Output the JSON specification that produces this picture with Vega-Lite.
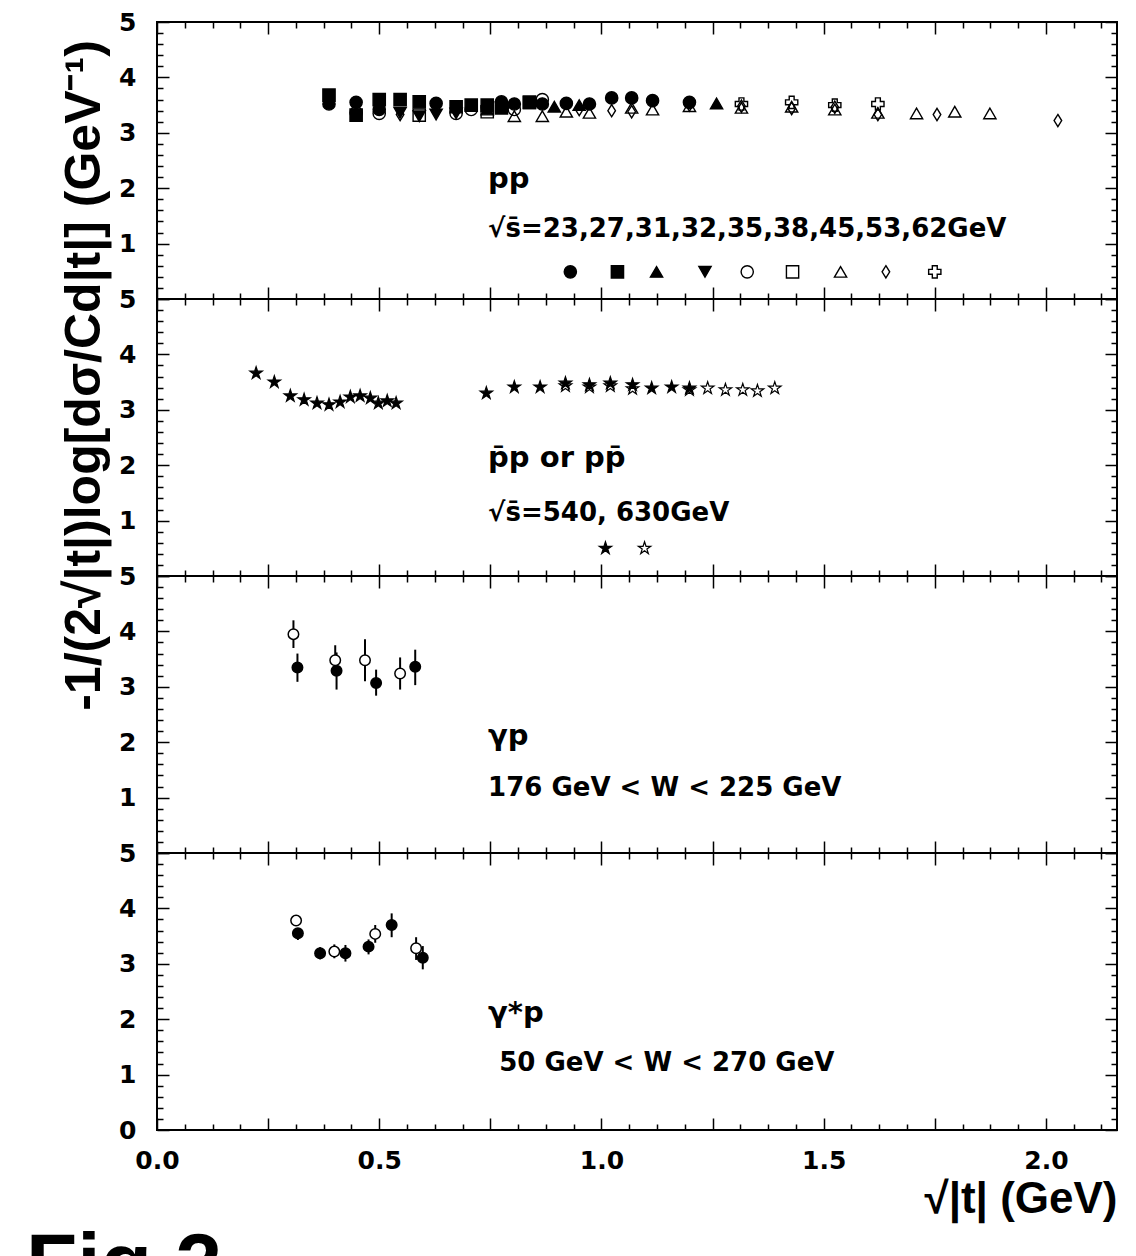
{
  "$schema": "https://vega.github.io/schema/vega-lite/v6.json",
  "padding": {"left": 25, "top": 9, "right": 5, "bottom": 0},
  "background": "white",
  "title": {"text": "Fig.2", "orient": "bottom", "anchor": "start", "fontSize": 84, "font": "Liberation Sans", "fontWeight": "bold", "color": "black", "dx": -32, "offset": 4, "baseline": "top"},
  "datasets": {
    "pp": [
      {"kind": "pt", "s": "23", "x": 0.387, "y": 3.52}, {"kind": "pt", "s": "23", "x": 0.448, "y": 3.55}, {"kind": "pt", "s": "23", "x": 0.5, "y": 3.42}, {"kind": "pt", "s": "23", "x": 0.628, "y": 3.53}, {"kind": "pt", "s": "23", "x": 0.775, "y": 3.56}, {"kind": "pt", "s": "23", "x": 0.804, "y": 3.52}, {"kind": "pt", "s": "23", "x": 0.867, "y": 3.52}, {"kind": "pt", "s": "23", "x": 0.921, "y": 3.53}, {"kind": "pt", "s": "23", "x": 0.973, "y": 3.52}, {"kind": "pt", "s": "23", "x": 1.023, "y": 3.63}, {"kind": "pt", "s": "23", "x": 1.068, "y": 3.63}, {"kind": "pt", "s": "23", "x": 1.115, "y": 3.58}, {"kind": "pt", "s": "23", "x": 1.198, "y": 3.55},
      {"kind": "pt", "s": "27", "x": 0.387, "y": 3.68}, {"kind": "pt", "s": "27", "x": 0.448, "y": 3.32}, {"kind": "pt", "s": "27", "x": 0.5, "y": 3.6}, {"kind": "pt", "s": "27", "x": 0.547, "y": 3.6}, {"kind": "pt", "s": "27", "x": 0.59, "y": 3.56}, {"kind": "pt", "s": "27", "x": 0.673, "y": 3.47}, {"kind": "pt", "s": "27", "x": 0.707, "y": 3.5}, {"kind": "pt", "s": "27", "x": 0.743, "y": 3.5}, {"kind": "pt", "s": "27", "x": 0.775, "y": 3.45}, {"kind": "pt", "s": "27", "x": 0.838, "y": 3.55},
      {"kind": "pt", "s": "31", "x": 0.743, "y": 3.42}, {"kind": "pt", "s": "31", "x": 0.894, "y": 3.47}, {"kind": "pt", "s": "31", "x": 0.95, "y": 3.5}, {"kind": "pt", "s": "31", "x": 1.259, "y": 3.53},
      {"kind": "pt", "s": "32", "x": 0.547, "y": 3.36}, {"kind": "pt", "s": "32", "x": 0.59, "y": 3.3}, {"kind": "pt", "s": "32", "x": 0.628, "y": 3.33}, {"kind": "pt", "s": "32", "x": 0.673, "y": 3.35},
      {"kind": "pt", "s": "35", "x": 0.448, "y": 3.36}, {"kind": "pt", "s": "35", "x": 0.5, "y": 3.35}, {"kind": "pt", "s": "35", "x": 0.673, "y": 3.35}, {"kind": "pt", "s": "35", "x": 0.707, "y": 3.42}, {"kind": "pt", "s": "35", "x": 0.743, "y": 3.46}, {"kind": "pt", "s": "35", "x": 0.804, "y": 3.42}, {"kind": "pt", "s": "35", "x": 0.867, "y": 3.6},
      {"kind": "pt", "s": "38", "x": 0.59, "y": 3.32}, {"kind": "pt", "s": "38", "x": 0.743, "y": 3.38}, {"kind": "pt", "s": "38", "x": 0.838, "y": 3.55},
      {"kind": "pt", "s": "45", "x": 0.804, "y": 3.3}, {"kind": "pt", "s": "45", "x": 0.867, "y": 3.3}, {"kind": "pt", "s": "45", "x": 0.921, "y": 3.38}, {"kind": "pt", "s": "45", "x": 0.973, "y": 3.36}, {"kind": "pt", "s": "45", "x": 1.068, "y": 3.45}, {"kind": "pt", "s": "45", "x": 1.115, "y": 3.42}, {"kind": "pt", "s": "45", "x": 1.198, "y": 3.48}, {"kind": "pt", "s": "45", "x": 1.315, "y": 3.45}, {"kind": "pt", "s": "45", "x": 1.428, "y": 3.47}, {"kind": "pt", "s": "45", "x": 1.525, "y": 3.42}, {"kind": "pt", "s": "45", "x": 1.622, "y": 3.36}, {"kind": "pt", "s": "45", "x": 1.709, "y": 3.35}, {"kind": "pt", "s": "45", "x": 1.795, "y": 3.38}, {"kind": "pt", "s": "45", "x": 1.874, "y": 3.35},
      {"kind": "pt", "s": "53", "x": 0.547, "y": 3.33}, {"kind": "pt", "s": "53", "x": 0.95, "y": 3.42}, {"kind": "pt", "s": "53", "x": 1.023, "y": 3.4}, {"kind": "pt", "s": "53", "x": 1.068, "y": 3.38}, {"kind": "pt", "s": "53", "x": 1.198, "y": 3.5}, {"kind": "pt", "s": "53", "x": 1.315, "y": 3.48}, {"kind": "pt", "s": "53", "x": 1.428, "y": 3.44}, {"kind": "pt", "s": "53", "x": 1.525, "y": 3.46}, {"kind": "pt", "s": "53", "x": 1.622, "y": 3.33}, {"kind": "pt", "s": "53", "x": 1.755, "y": 3.33}, {"kind": "pt", "s": "53", "x": 2.027, "y": 3.22},
      {"kind": "pt", "s": "62", "x": 1.315, "y": 3.52}, {"kind": "pt", "s": "62", "x": 1.428, "y": 3.55}, {"kind": "pt", "s": "62", "x": 1.525, "y": 3.5}, {"kind": "pt", "s": "62", "x": 1.622, "y": 3.52},
      {"kind": "pt", "s": "23", "x": 0.93, "y": 0.49}, {"kind": "pt", "s": "27", "x": 1.036, "y": 0.49}, {"kind": "pt", "s": "31", "x": 1.124, "y": 0.49}, {"kind": "pt", "s": "32", "x": 1.233, "y": 0.49}, {"kind": "pt", "s": "35", "x": 1.328, "y": 0.49}, {"kind": "pt", "s": "38", "x": 1.43, "y": 0.49}, {"kind": "pt", "s": "45", "x": 1.538, "y": 0.49}, {"kind": "pt", "s": "53", "x": 1.64, "y": 0.49}, {"kind": "pt", "s": "62", "x": 1.75, "y": 0.49},
      {"kind": "t1", "x": 0.745, "y": 2.0, "label": "pp"},
      {"kind": "t2", "x": 0.745, "y": 1.12, "label": "√s̄=23,27,31,32,35,38,45,53,62GeV"}
    ],
    "ppbar": [
      {"kind": "pt", "s": "540", "x": 0.223, "y": 3.66}, {"kind": "pt", "s": "540", "x": 0.264, "y": 3.5}, {"kind": "pt", "s": "540", "x": 0.3, "y": 3.25}, {"kind": "pt", "s": "540", "x": 0.331, "y": 3.18}, {"kind": "pt", "s": "540", "x": 0.36, "y": 3.12}, {"kind": "pt", "s": "540", "x": 0.387, "y": 3.09}, {"kind": "pt", "s": "540", "x": 0.412, "y": 3.14}, {"kind": "pt", "s": "540", "x": 0.435, "y": 3.23}, {"kind": "pt", "s": "540", "x": 0.457, "y": 3.25}, {"kind": "pt", "s": "540", "x": 0.48, "y": 3.21}, {"kind": "pt", "s": "540", "x": 0.498, "y": 3.12}, {"kind": "pt", "s": "540", "x": 0.518, "y": 3.16}, {"kind": "pt", "s": "540", "x": 0.538, "y": 3.12},
      {"kind": "pt", "s": "540", "x": 0.741, "y": 3.3}, {"kind": "pt", "s": "540", "x": 0.804, "y": 3.41}, {"kind": "pt", "s": "540", "x": 0.862, "y": 3.41}, {"kind": "pt", "s": "540", "x": 0.919, "y": 3.48}, {"kind": "pt", "s": "540", "x": 0.973, "y": 3.45}, {"kind": "pt", "s": "540", "x": 1.02, "y": 3.48}, {"kind": "pt", "s": "540", "x": 1.07, "y": 3.45}, {"kind": "pt", "s": "540", "x": 1.113, "y": 3.39}, {"kind": "pt", "s": "540", "x": 1.158, "y": 3.41}, {"kind": "pt", "s": "540", "x": 1.198, "y": 3.39},
      {"kind": "pt", "s": "630", "x": 0.919, "y": 3.43}, {"kind": "pt", "s": "630", "x": 0.973, "y": 3.41}, {"kind": "pt", "s": "630", "x": 1.02, "y": 3.43}, {"kind": "pt", "s": "630", "x": 1.07, "y": 3.38}, {"kind": "pt", "s": "630", "x": 1.198, "y": 3.36}, {"kind": "pt", "s": "630", "x": 1.239, "y": 3.39}, {"kind": "pt", "s": "630", "x": 1.279, "y": 3.36}, {"kind": "pt", "s": "630", "x": 1.318, "y": 3.36}, {"kind": "pt", "s": "630", "x": 1.351, "y": 3.34}, {"kind": "pt", "s": "630", "x": 1.39, "y": 3.39},
      {"kind": "pt", "s": "540", "x": 1.009, "y": 0.5}, {"kind": "pt", "s": "630", "x": 1.097, "y": 0.5},
      {"kind": "t1", "x": 0.745, "y": 1.97, "label": "p̄p or pp̄"},
      {"kind": "t2", "x": 0.745, "y": 0.99, "label": "√s̄=540, 630GeV"}
    ],
    "gp": [
      {"kind": "pt", "s": "a", "x": 0.316, "y": 3.35, "lo": 3.09, "hi": 3.6}, {"kind": "pt", "s": "a", "x": 0.404, "y": 3.29, "lo": 2.95, "hi": 3.62}, {"kind": "pt", "s": "a", "x": 0.493, "y": 3.07, "lo": 2.84, "hi": 3.31}, {"kind": "pt", "s": "a", "x": 0.581, "y": 3.36, "lo": 3.03, "hi": 3.67},
      {"kind": "pt", "s": "b", "x": 0.307, "y": 3.95, "lo": 3.7, "hi": 4.2}, {"kind": "pt", "s": "b", "x": 0.401, "y": 3.48, "lo": 3.2, "hi": 3.75}, {"kind": "pt", "s": "b", "x": 0.468, "y": 3.48, "lo": 3.1, "hi": 3.86}, {"kind": "pt", "s": "b", "x": 0.547, "y": 3.24, "lo": 2.95, "hi": 3.53},
      {"kind": "t1", "x": 0.745, "y": 1.95, "label": "γp"},
      {"kind": "t2", "x": 0.745, "y": 1.03, "label": "176 GeV < W < 225 GeV"}
    ],
    "gsp": [
      {"kind": "pt", "s": "a", "x": 0.317, "y": 3.55, "lo": 3.43, "hi": 3.64}, {"kind": "pt", "s": "a", "x": 0.367, "y": 3.19, "lo": 3.08, "hi": 3.3}, {"kind": "pt", "s": "a", "x": 0.424, "y": 3.19, "lo": 3.04, "hi": 3.34}, {"kind": "pt", "s": "a", "x": 0.476, "y": 3.31, "lo": 3.17, "hi": 3.44}, {"kind": "pt", "s": "a", "x": 0.528, "y": 3.7, "lo": 3.48, "hi": 3.91}, {"kind": "pt", "s": "a", "x": 0.598, "y": 3.11, "lo": 2.9, "hi": 3.32},
      {"kind": "pt", "s": "b", "x": 0.313, "y": 3.78, "lo": 3.7, "hi": 3.88}, {"kind": "pt", "s": "b", "x": 0.399, "y": 3.22, "lo": 3.1, "hi": 3.35}, {"kind": "pt", "s": "b", "x": 0.491, "y": 3.54, "lo": 3.38, "hi": 3.7}, {"kind": "pt", "s": "b", "x": 0.583, "y": 3.28, "lo": 3.07, "hi": 3.48},
      {"kind": "t1", "x": 0.745, "y": 1.95, "label": "γ*p"},
      {"kind": "t2", "x": 0.77, "y": 1.06, "label": "50 GeV < W < 270 GeV"}
    ]
  },
  "resolve": {"scale": {"fill": "independent", "shape": "independent"}},
  "vconcat": [
    {
      "width": 960, "height": 277,
      "data": {"name": "pp"},
      "resolve": {"axis": {"x": "independent", "y": "independent"}},
      "layer": [
        {"mark": {"type": "point", "opacity": 0}, "encoding": {
          "x": {"field": "x", "type": "quantitative", "scale": {"domain": [0, 2.16], "nice": false, "zero": false}, "axis": {"orient": "bottom", "values": [0, 0.25, 0.5, 0.75, 1, 1.25, 1.5, 1.75, 2], "tickSize": -12, "labels": false, "title": null}},
          "y": {"field": "y", "type": "quantitative", "scale": {"domain": [0, 5], "nice": false, "zero": false}, "axis": {"orient": "left", "values": [0, 1, 2, 3, 4, 5], "tickSize": -12, "labelPadding": 33, "labelExpr": "datum.value == 0 ? '' : datum.label", "title": null}}}},
        {"mark": {"type": "point", "opacity": 0}, "encoding": {
          "x": {"field": "x", "type": "quantitative", "scale": {"domain": [0, 2.16], "nice": false, "zero": false}, "axis": {"orient": "top", "values": [0, 0.25, 0.5, 0.75, 1, 1.25, 1.5, 1.75, 2], "tickSize": -12, "labels": false, "title": null}},
          "y": {"field": "y", "type": "quantitative", "scale": {"domain": [0, 5], "nice": false, "zero": false}, "axis": {"orient": "right", "values": [0, 1, 2, 3, 4, 5], "tickSize": -12, "labels": false, "title": null}}}},
        {"mark": {"type": "point", "opacity": 0}, "encoding": {
          "x": {"field": "x", "type": "quantitative", "scale": {"domain": [0, 2.16], "nice": false, "zero": false}, "axis": {"orient": "bottom", "values": [0.0625, 0.125, 0.1875, 0.3125, 0.375, 0.4375, 0.5625, 0.625, 0.6875, 0.8125, 0.875, 0.9375, 1.0625, 1.125, 1.1875, 1.3125, 1.375, 1.4375, 1.5625, 1.625, 1.6875, 1.8125, 1.875, 1.9375, 2.0625, 2.125], "tickSize": -6, "labels": false, "title": null}},
          "y": {"field": "y", "type": "quantitative", "scale": {"domain": [0, 5], "nice": false, "zero": false}, "axis": {"orient": "left", "values": [0.2, 0.4, 0.6, 0.8, 1.2, 1.4, 1.6, 1.8, 2.2, 2.4, 2.6, 2.8, 3.2, 3.4, 3.6, 3.8, 4.2, 4.4, 4.6, 4.8], "tickSize": -6, "labels": false, "title": null}}}},
        {"mark": {"type": "point", "opacity": 0}, "encoding": {
          "x": {"field": "x", "type": "quantitative", "scale": {"domain": [0, 2.16], "nice": false, "zero": false}, "axis": {"orient": "top", "values": [0.0625, 0.125, 0.1875, 0.3125, 0.375, 0.4375, 0.5625, 0.625, 0.6875, 0.8125, 0.875, 0.9375, 1.0625, 1.125, 1.1875, 1.3125, 1.375, 1.4375, 1.5625, 1.625, 1.6875, 1.8125, 1.875, 1.9375, 2.0625, 2.125], "tickSize": -6, "labels": false, "title": null}},
          "y": {"field": "y", "type": "quantitative", "scale": {"domain": [0, 5], "nice": false, "zero": false}, "axis": {"orient": "right", "values": [0.2, 0.4, 0.6, 0.8, 1.2, 1.4, 1.6, 1.8, 2.2, 2.4, 2.6, 2.8, 3.2, 3.4, 3.6, 3.8, 4.2, 4.4, 4.6, 4.8], "tickSize": -6, "labels": false, "title": null}}}},
        {"transform": [{"filter": "datum.kind == 'pt'"}],
         "mark": {"type": "point", "filled": true, "opacity": 1, "stroke": "black", "strokeWidth": 1.4, "size": 150},
         "encoding": {
          "x": {"field": "x", "type": "quantitative", "scale": {"domain": [0, 2.16], "nice": false, "zero": false}, "axis": null},
          "y": {"field": "y", "type": "quantitative", "scale": {"domain": [0, 5], "nice": false, "zero": false}, "axis": null},
          "shape": {"field": "s", "type": "nominal", "scale": {"domain": ["23", "27", "31", "32", "35", "38", "45", "53", "62"], "range": ["circle", "square", "triangle-up", "triangle-down", "circle", "square", "triangle-up", "M0,-1L0.62,0L0,1L-0.62,0Z", "cross"]}, "legend": null},
          "fill": {"field": "s", "type": "nominal", "scale": {"domain": ["23", "27", "31", "32", "35", "38", "45", "53", "62"], "range": ["black", "black", "black", "black", "transparent", "transparent", "transparent", "transparent", "transparent"]}, "legend": null}}},
        {"transform": [{"filter": "datum.kind == 't1'"}],
         "mark": {"type": "text", "align": "left", "baseline": "alphabetic", "fontSize": 29, "fontWeight": "bold", "font": "DejaVu Sans", "color": "black"},
         "encoding": {
          "x": {"field": "x", "type": "quantitative", "scale": {"domain": [0, 2.16], "nice": false, "zero": false}, "axis": null},
          "y": {"field": "y", "type": "quantitative", "scale": {"domain": [0, 5], "nice": false, "zero": false}, "axis": null},
          "text": {"field": "label"}}},
        {"transform": [{"filter": "datum.kind == 't2'"}],
         "mark": {"type": "text", "align": "left", "baseline": "alphabetic", "fontSize": 26, "fontWeight": "bold", "font": "DejaVu Sans", "color": "black"},
         "encoding": {
          "x": {"field": "x", "type": "quantitative", "scale": {"domain": [0, 2.16], "nice": false, "zero": false}, "axis": null},
          "y": {"field": "y", "type": "quantitative", "scale": {"domain": [0, 5], "nice": false, "zero": false}, "axis": null},
          "text": {"field": "label"}}}
      ]
    },
    {
      "width": 960, "height": 277,
      "data": {"name": "ppbar"},
      "resolve": {"axis": {"x": "independent", "y": "independent"}},
      "layer": [
        {"mark": {"type": "point", "opacity": 0}, "encoding": {
          "x": {"field": "x", "type": "quantitative", "scale": {"domain": [0, 2.16], "nice": false, "zero": false}, "axis": {"orient": "bottom", "values": [0, 0.25, 0.5, 0.75, 1, 1.25, 1.5, 1.75, 2], "tickSize": -12, "labels": false, "title": null}},
          "y": {"field": "y", "type": "quantitative", "scale": {"domain": [0, 5], "nice": false, "zero": false}, "axis": {"orient": "left", "values": [0, 1, 2, 3, 4, 5], "tickSize": -12, "labelPadding": 33, "labelExpr": "datum.value == 0 ? '' : datum.label", "title": "-1/(2√|t|)log[dσ/Cd|t|] (GeV⁻¹)", "titleFontSize": 50, "titleFontWeight": "bold", "titleFont": "Liberation Sans", "titleAngle": -90, "titleAlign": "center", "titleBaseline": "bottom", "titleX": -48, "titleY": 76}}}},
        {"mark": {"type": "point", "opacity": 0}, "encoding": {
          "x": {"field": "x", "type": "quantitative", "scale": {"domain": [0, 2.16], "nice": false, "zero": false}, "axis": {"orient": "top", "values": [0, 0.25, 0.5, 0.75, 1, 1.25, 1.5, 1.75, 2], "tickSize": -12, "labels": false, "title": null}},
          "y": {"field": "y", "type": "quantitative", "scale": {"domain": [0, 5], "nice": false, "zero": false}, "axis": {"orient": "right", "values": [0, 1, 2, 3, 4, 5], "tickSize": -12, "labels": false, "title": null}}}},
        {"mark": {"type": "point", "opacity": 0}, "encoding": {
          "x": {"field": "x", "type": "quantitative", "scale": {"domain": [0, 2.16], "nice": false, "zero": false}, "axis": {"orient": "bottom", "values": [0.0625, 0.125, 0.1875, 0.3125, 0.375, 0.4375, 0.5625, 0.625, 0.6875, 0.8125, 0.875, 0.9375, 1.0625, 1.125, 1.1875, 1.3125, 1.375, 1.4375, 1.5625, 1.625, 1.6875, 1.8125, 1.875, 1.9375, 2.0625, 2.125], "tickSize": -6, "labels": false, "title": null}},
          "y": {"field": "y", "type": "quantitative", "scale": {"domain": [0, 5], "nice": false, "zero": false}, "axis": {"orient": "left", "values": [0.2, 0.4, 0.6, 0.8, 1.2, 1.4, 1.6, 1.8, 2.2, 2.4, 2.6, 2.8, 3.2, 3.4, 3.6, 3.8, 4.2, 4.4, 4.6, 4.8], "tickSize": -6, "labels": false, "title": null}}}},
        {"mark": {"type": "point", "opacity": 0}, "encoding": {
          "x": {"field": "x", "type": "quantitative", "scale": {"domain": [0, 2.16], "nice": false, "zero": false}, "axis": {"orient": "top", "values": [0.0625, 0.125, 0.1875, 0.3125, 0.375, 0.4375, 0.5625, 0.625, 0.6875, 0.8125, 0.875, 0.9375, 1.0625, 1.125, 1.1875, 1.3125, 1.375, 1.4375, 1.5625, 1.625, 1.6875, 1.8125, 1.875, 1.9375, 2.0625, 2.125], "tickSize": -6, "labels": false, "title": null}},
          "y": {"field": "y", "type": "quantitative", "scale": {"domain": [0, 5], "nice": false, "zero": false}, "axis": {"orient": "right", "values": [0.2, 0.4, 0.6, 0.8, 1.2, 1.4, 1.6, 1.8, 2.2, 2.4, 2.6, 2.8, 3.2, 3.4, 3.6, 3.8, 4.2, 4.4, 4.6, 4.8], "tickSize": -6, "labels": false, "title": null}}}},
        {"transform": [{"filter": "datum.kind == 'pt'"}],
         "mark": {"type": "point", "filled": true, "opacity": 1, "stroke": "black", "strokeWidth": 1.2, "size": 170},
         "encoding": {
          "x": {"field": "x", "type": "quantitative", "scale": {"domain": [0, 2.16], "nice": false, "zero": false}, "axis": null},
          "y": {"field": "y", "type": "quantitative", "scale": {"domain": [0, 5], "nice": false, "zero": false}, "axis": null},
          "shape": {"value": "M0,-1L0.2245,-0.309L0.951,-0.309L0.363,0.118L0.588,0.809L0,0.382L-0.588,0.809L-0.363,0.118L-0.951,-0.309L-0.2245,-0.309Z"},
          "fill": {"field": "s", "type": "nominal", "scale": {"domain": ["540", "630"], "range": ["black", "transparent"]}, "legend": null}}},
        {"transform": [{"filter": "datum.kind == 't1'"}],
         "mark": {"type": "text", "align": "left", "baseline": "alphabetic", "fontSize": 29, "fontWeight": "bold", "font": "DejaVu Sans", "color": "black"},
         "encoding": {
          "x": {"field": "x", "type": "quantitative", "scale": {"domain": [0, 2.16], "nice": false, "zero": false}, "axis": null},
          "y": {"field": "y", "type": "quantitative", "scale": {"domain": [0, 5], "nice": false, "zero": false}, "axis": null},
          "text": {"field": "label"}}},
        {"transform": [{"filter": "datum.kind == 't2'"}],
         "mark": {"type": "text", "align": "left", "baseline": "alphabetic", "fontSize": 26, "fontWeight": "bold", "font": "DejaVu Sans", "color": "black"},
         "encoding": {
          "x": {"field": "x", "type": "quantitative", "scale": {"domain": [0, 2.16], "nice": false, "zero": false}, "axis": null},
          "y": {"field": "y", "type": "quantitative", "scale": {"domain": [0, 5], "nice": false, "zero": false}, "axis": null},
          "text": {"field": "label"}}}
      ]
    },
    {
      "width": 960, "height": 277,
      "data": {"name": "gp"},
      "resolve": {"axis": {"x": "independent", "y": "independent"}},
      "layer": [
        {"mark": {"type": "point", "opacity": 0}, "encoding": {
          "x": {"field": "x", "type": "quantitative", "scale": {"domain": [0, 2.16], "nice": false, "zero": false}, "axis": {"orient": "bottom", "values": [0, 0.25, 0.5, 0.75, 1, 1.25, 1.5, 1.75, 2], "tickSize": -12, "labels": false, "title": null}},
          "y": {"field": "y", "type": "quantitative", "scale": {"domain": [0, 5], "nice": false, "zero": false}, "axis": {"orient": "left", "values": [0, 1, 2, 3, 4, 5], "tickSize": -12, "labelPadding": 33, "labelExpr": "datum.value == 0 ? '' : datum.label", "title": null}}}},
        {"mark": {"type": "point", "opacity": 0}, "encoding": {
          "x": {"field": "x", "type": "quantitative", "scale": {"domain": [0, 2.16], "nice": false, "zero": false}, "axis": {"orient": "top", "values": [0, 0.25, 0.5, 0.75, 1, 1.25, 1.5, 1.75, 2], "tickSize": -12, "labels": false, "title": null}},
          "y": {"field": "y", "type": "quantitative", "scale": {"domain": [0, 5], "nice": false, "zero": false}, "axis": {"orient": "right", "values": [0, 1, 2, 3, 4, 5], "tickSize": -12, "labels": false, "title": null}}}},
        {"mark": {"type": "point", "opacity": 0}, "encoding": {
          "x": {"field": "x", "type": "quantitative", "scale": {"domain": [0, 2.16], "nice": false, "zero": false}, "axis": {"orient": "bottom", "values": [0.0625, 0.125, 0.1875, 0.3125, 0.375, 0.4375, 0.5625, 0.625, 0.6875, 0.8125, 0.875, 0.9375, 1.0625, 1.125, 1.1875, 1.3125, 1.375, 1.4375, 1.5625, 1.625, 1.6875, 1.8125, 1.875, 1.9375, 2.0625, 2.125], "tickSize": -6, "labels": false, "title": null}},
          "y": {"field": "y", "type": "quantitative", "scale": {"domain": [0, 5], "nice": false, "zero": false}, "axis": {"orient": "left", "values": [0.2, 0.4, 0.6, 0.8, 1.2, 1.4, 1.6, 1.8, 2.2, 2.4, 2.6, 2.8, 3.2, 3.4, 3.6, 3.8, 4.2, 4.4, 4.6, 4.8], "tickSize": -6, "labels": false, "title": null}}}},
        {"mark": {"type": "point", "opacity": 0}, "encoding": {
          "x": {"field": "x", "type": "quantitative", "scale": {"domain": [0, 2.16], "nice": false, "zero": false}, "axis": {"orient": "top", "values": [0.0625, 0.125, 0.1875, 0.3125, 0.375, 0.4375, 0.5625, 0.625, 0.6875, 0.8125, 0.875, 0.9375, 1.0625, 1.125, 1.1875, 1.3125, 1.375, 1.4375, 1.5625, 1.625, 1.6875, 1.8125, 1.875, 1.9375, 2.0625, 2.125], "tickSize": -6, "labels": false, "title": null}},
          "y": {"field": "y", "type": "quantitative", "scale": {"domain": [0, 5], "nice": false, "zero": false}, "axis": {"orient": "right", "values": [0.2, 0.4, 0.6, 0.8, 1.2, 1.4, 1.6, 1.8, 2.2, 2.4, 2.6, 2.8, 3.2, 3.4, 3.6, 3.8, 4.2, 4.4, 4.6, 4.8], "tickSize": -6, "labels": false, "title": null}}}},
        {"transform": [{"filter": "datum.kind == 'pt'"}],
         "mark": {"type": "rule", "color": "black", "strokeWidth": 2},
         "encoding": {
          "x": {"field": "x", "type": "quantitative", "scale": {"domain": [0, 2.16], "nice": false, "zero": false}, "axis": null},
          "y": {"field": "lo", "type": "quantitative", "scale": {"domain": [0, 5], "nice": false, "zero": false}, "axis": null},
          "y2": {"field": "hi"}}},
        {"transform": [{"filter": "datum.kind == 'pt'"}],
         "mark": {"type": "point", "filled": true, "stroke": "black", "strokeWidth": 1.5, "size": 110, "opacity": 1},
         "encoding": {
          "x": {"field": "x", "type": "quantitative", "scale": {"domain": [0, 2.16], "nice": false, "zero": false}, "axis": null},
          "y": {"field": "y", "type": "quantitative", "scale": {"domain": [0, 5], "nice": false, "zero": false}, "axis": null},
          "shape": {"value": "circle"},
          "fill": {"field": "s", "type": "nominal", "scale": {"domain": ["a", "b"], "range": ["black", "white"]}, "legend": null}}},
        {"transform": [{"filter": "datum.kind == 't1'"}],
         "mark": {"type": "text", "align": "left", "baseline": "alphabetic", "fontSize": 29, "fontWeight": "bold", "font": "DejaVu Sans", "color": "black"},
         "encoding": {
          "x": {"field": "x", "type": "quantitative", "scale": {"domain": [0, 2.16], "nice": false, "zero": false}, "axis": null},
          "y": {"field": "y", "type": "quantitative", "scale": {"domain": [0, 5], "nice": false, "zero": false}, "axis": null},
          "text": {"field": "label"}}},
        {"transform": [{"filter": "datum.kind == 't2'"}],
         "mark": {"type": "text", "align": "left", "baseline": "alphabetic", "fontSize": 26, "fontWeight": "bold", "font": "DejaVu Sans", "color": "black"},
         "encoding": {
          "x": {"field": "x", "type": "quantitative", "scale": {"domain": [0, 2.16], "nice": false, "zero": false}, "axis": null},
          "y": {"field": "y", "type": "quantitative", "scale": {"domain": [0, 5], "nice": false, "zero": false}, "axis": null},
          "text": {"field": "label"}}}
      ]
    },
    {
      "width": 960, "height": 277,
      "data": {"name": "gsp"},
      "resolve": {"axis": {"x": "independent", "y": "independent"}},
      "layer": [
        {"mark": {"type": "point", "opacity": 0}, "encoding": {
          "x": {"field": "x", "type": "quantitative", "scale": {"domain": [0, 2.16], "nice": false, "zero": false}, "axis": {"orient": "bottom", "values": [0, 0.25, 0.5, 0.75, 1, 1.25, 1.5, 1.75, 2], "tickSize": -12, "labels": true, "labelFlush": false, "labelPadding": 30, "labelExpr": "datum.value % 0.5 == 0 ? format(datum.value, '.1f') : ''", "title": "√|t| (GeV)", "titleAnchor": "end", "titleFontSize": 44, "titleFontWeight": "bold", "titleFont": "Liberation Sans", "titlePadding": 4}},
          "y": {"field": "y", "type": "quantitative", "scale": {"domain": [0, 5], "nice": false, "zero": false}, "axis": {"orient": "left", "values": [0, 1, 2, 3, 4, 5], "tickSize": -12, "labelPadding": 33, "title": null}}}},
        {"mark": {"type": "point", "opacity": 0}, "encoding": {
          "x": {"field": "x", "type": "quantitative", "scale": {"domain": [0, 2.16], "nice": false, "zero": false}, "axis": {"orient": "top", "values": [0, 0.25, 0.5, 0.75, 1, 1.25, 1.5, 1.75, 2], "tickSize": -12, "labels": false, "title": null}},
          "y": {"field": "y", "type": "quantitative", "scale": {"domain": [0, 5], "nice": false, "zero": false}, "axis": {"orient": "right", "values": [0, 1, 2, 3, 4, 5], "tickSize": -12, "labels": false, "title": null}}}},
        {"mark": {"type": "point", "opacity": 0}, "encoding": {
          "x": {"field": "x", "type": "quantitative", "scale": {"domain": [0, 2.16], "nice": false, "zero": false}, "axis": {"orient": "bottom", "values": [0.0625, 0.125, 0.1875, 0.3125, 0.375, 0.4375, 0.5625, 0.625, 0.6875, 0.8125, 0.875, 0.9375, 1.0625, 1.125, 1.1875, 1.3125, 1.375, 1.4375, 1.5625, 1.625, 1.6875, 1.8125, 1.875, 1.9375, 2.0625, 2.125], "tickSize": -6, "labels": false, "title": null}},
          "y": {"field": "y", "type": "quantitative", "scale": {"domain": [0, 5], "nice": false, "zero": false}, "axis": {"orient": "left", "values": [0.2, 0.4, 0.6, 0.8, 1.2, 1.4, 1.6, 1.8, 2.2, 2.4, 2.6, 2.8, 3.2, 3.4, 3.6, 3.8, 4.2, 4.4, 4.6, 4.8], "tickSize": -6, "labels": false, "title": null}}}},
        {"mark": {"type": "point", "opacity": 0}, "encoding": {
          "x": {"field": "x", "type": "quantitative", "scale": {"domain": [0, 2.16], "nice": false, "zero": false}, "axis": {"orient": "top", "values": [0.0625, 0.125, 0.1875, 0.3125, 0.375, 0.4375, 0.5625, 0.625, 0.6875, 0.8125, 0.875, 0.9375, 1.0625, 1.125, 1.1875, 1.3125, 1.375, 1.4375, 1.5625, 1.625, 1.6875, 1.8125, 1.875, 1.9375, 2.0625, 2.125], "tickSize": -6, "labels": false, "title": null}},
          "y": {"field": "y", "type": "quantitative", "scale": {"domain": [0, 5], "nice": false, "zero": false}, "axis": {"orient": "right", "values": [0.2, 0.4, 0.6, 0.8, 1.2, 1.4, 1.6, 1.8, 2.2, 2.4, 2.6, 2.8, 3.2, 3.4, 3.6, 3.8, 4.2, 4.4, 4.6, 4.8], "tickSize": -6, "labels": false, "title": null}}}},
        {"transform": [{"filter": "datum.kind == 'pt'"}],
         "mark": {"type": "rule", "color": "black", "strokeWidth": 2},
         "encoding": {
          "x": {"field": "x", "type": "quantitative", "scale": {"domain": [0, 2.16], "nice": false, "zero": false}, "axis": null},
          "y": {"field": "lo", "type": "quantitative", "scale": {"domain": [0, 5], "nice": false, "zero": false}, "axis": null},
          "y2": {"field": "hi"}}},
        {"transform": [{"filter": "datum.kind == 'pt'"}],
         "mark": {"type": "point", "filled": true, "stroke": "black", "strokeWidth": 1.5, "size": 110, "opacity": 1},
         "encoding": {
          "x": {"field": "x", "type": "quantitative", "scale": {"domain": [0, 2.16], "nice": false, "zero": false}, "axis": null},
          "y": {"field": "y", "type": "quantitative", "scale": {"domain": [0, 5], "nice": false, "zero": false}, "axis": null},
          "shape": {"value": "circle"},
          "fill": {"field": "s", "type": "nominal", "scale": {"domain": ["a", "b"], "range": ["black", "white"]}, "legend": null}}},
        {"transform": [{"filter": "datum.kind == 't1'"}],
         "mark": {"type": "text", "align": "left", "baseline": "alphabetic", "fontSize": 29, "fontWeight": "bold", "font": "DejaVu Sans", "color": "black"},
         "encoding": {
          "x": {"field": "x", "type": "quantitative", "scale": {"domain": [0, 2.16], "nice": false, "zero": false}, "axis": null},
          "y": {"field": "y", "type": "quantitative", "scale": {"domain": [0, 5], "nice": false, "zero": false}, "axis": null},
          "text": {"field": "label"}}},
        {"transform": [{"filter": "datum.kind == 't2'"}],
         "mark": {"type": "text", "align": "left", "baseline": "alphabetic", "fontSize": 26, "fontWeight": "bold", "font": "DejaVu Sans", "color": "black"},
         "encoding": {
          "x": {"field": "x", "type": "quantitative", "scale": {"domain": [0, 2.16], "nice": false, "zero": false}, "axis": null},
          "y": {"field": "y", "type": "quantitative", "scale": {"domain": [0, 5], "nice": false, "zero": false}, "axis": null},
          "text": {"field": "label"}}}
      ]
    }
  ],
  "spacing": 0,
  "bounds": "flush",
  "config": {
    "view": {"stroke": "black", "strokeWidth": 2},
    "axis": {"grid": false, "domain": false, "tickColor": "black", "tickWidth": 1.5, "labelFont": "DejaVu Sans", "labelFontWeight": "bold", "labelFontSize": 25, "labelColor": "black", "titleFont": "Liberation Sans", "titleFontWeight": "bold", "titleColor": "black"}
  }
}
